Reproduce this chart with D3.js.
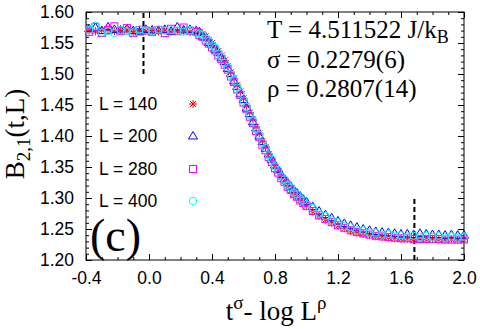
<!DOCTYPE html>
<html><head><meta charset="utf-8">
<script src="https://cdn.jsdelivr.net/npm/d3@7/dist/d3.min.js"></script>
<style>
body{margin:0;background:#fff;}
svg{display:block;}
.tick text{font-family:'Liberation Sans',Arial,sans-serif;font-size:17.5px;fill:#000;}
.serif{font-family:'Liberation Serif','Times New Roman',serif;}
.sans{font-family:'Liberation Sans',Arial,sans-serif;}
</style></head>
<body><svg id="c" width="480" height="329"></svg>
<script>
// ---------- data ----------
const xVals = [-0.38,-0.34,-0.30,-0.26,-0.22,-0.18,-0.14,-0.10,-0.06,-0.02,0.02,0.06,0.10,0.14,0.18,0.22,0.26,0.30,
0.32,0.34,0.36,0.38,0.40,0.42,0.44,0.46,0.48,0.50,0.52,0.54,0.56,0.58,0.60,0.62,0.64,0.66,0.68,0.70,0.72,0.74,0.76,0.78,0.80,0.82,0.84,0.86,0.88,0.90,0.92,0.94,0.96,0.98,1.00,
1.04,1.08,1.12,1.16,1.20,1.24,1.28,1.32,1.36,1.40,1.44,1.48,1.52,1.56,1.60,1.64,1.68,1.72,1.76,1.80,1.84,1.88,1.92,1.96,2.00];

const yL140 = [1.570,1.569,1.571,1.572,1.569,1.570,1.571,1.568,1.570,1.569,1.570,1.569,1.571,1.568,1.569,1.570,1.568,1.567,
1.568,1.565,1.561,1.555,1.550,1.544,1.537,1.530,1.522,1.513,1.503,1.493,1.482,1.472,1.461,1.449,1.438,1.427,1.415,1.404,1.392,1.382,1.371,1.361,1.352,1.343,1.334,1.327,1.319,1.312,1.306,1.301,1.296,1.291,1.287,
1.278,1.271,1.265,1.260,1.255,1.251,1.247,1.244,1.242,1.240,1.238,1.237,1.236,1.235,1.234,1.234,1.233,1.233,1.233,1.234,1.233,1.232,1.233,1.232,1.233];

const yL200 = [1.573,1.575,1.570,1.576,1.572,1.571,1.573,1.570,1.568,1.572,1.571,1.570,1.572,1.569,1.576,1.571,1.572,1.570,
1.568,1.561,1.559,1.551,1.548,1.540,1.535,1.526,1.520,1.509,1.501,1.489,1.480,1.468,1.459,1.445,1.436,1.423,1.413,1.400,1.391,1.380,1.371,1.362,1.353,1.346,1.338,1.331,1.325,1.319,1.313,1.308,1.303,1.298,1.294,
1.286,1.279,1.273,1.268,1.263,1.259,1.256,1.253,1.250,1.248,1.246,1.245,1.244,1.243,1.242,1.242,1.241,1.243,1.242,1.241,1.241,1.240,1.241,1.240,1.240];

const yL280 = [1.568,1.576,1.566,1.571,1.577,1.569,1.574,1.566,1.571,1.570,1.568,1.571,1.566,1.573,1.569,1.575,1.570,1.568,
1.563,1.560,1.554,1.549,1.543,1.538,1.530,1.524,1.515,1.507,1.496,1.487,1.475,1.466,1.454,1.443,1.431,1.421,1.408,1.398,1.386,1.377,1.366,1.358,1.348,1.341,1.332,1.326,1.318,1.313,1.306,1.302,1.296,1.292,1.287,
1.279,1.272,1.266,1.261,1.256,1.252,1.248,1.245,1.243,1.241,1.239,1.238,1.237,1.236,1.235,1.235,1.234,1.234,1.234,1.234,1.234,1.233,1.233,1.233,1.233];

const yL400 = [1.571,1.578,1.567,1.569,1.566,1.571,1.569,1.567,1.572,1.570,1.569,1.572,1.570,1.571,1.570,1.568,1.571,1.566,
1.565,1.563,1.557,1.553,1.546,1.542,1.533,1.528,1.518,1.511,1.499,1.491,1.478,1.470,1.457,1.447,1.434,1.425,1.411,1.402,1.389,1.381,1.369,1.362,1.351,1.345,1.335,1.330,1.321,1.317,1.309,1.306,1.299,1.296,1.290,
1.284,1.275,1.271,1.264,1.261,1.255,1.253,1.248,1.248,1.244,1.244,1.241,1.242,1.239,1.240,1.238,1.239,1.237,1.239,1.237,1.239,1.236,1.238,1.236,1.238];

const seriesLabels = ["L = 140","L = 200","L = 280","L = 400"];
const seriesColors = ["#ff0000","#0000ff","#ff00ff","#00ffff"];
const seriesShapes = ["star","triangle","square","circle"];
const seriesY = [yL140,yL200,yL280,yL400];

const xTickLabels = [-0.4,0.0,0.4,0.8,1.2,1.6,2.0];
const yTickLabels = [1.20,1.25,1.30,1.35,1.40,1.45,1.50,1.55,1.60];
const dashedMarks = [{x:-0.035,y0:1.50,y1:1.60},{x:1.685,y0:1.20,y1:1.30}];

// ---------- layout ----------
const L=86,R=464,T=12,B=260;
const svg=d3.select("#c");
const x=d3.scaleLinear().domain([-0.4,2.0]).range([L,R]);
const y=d3.scaleLinear().domain([1.20,1.60]).range([B,T]);

// axes (ticks inward, mirrored)
const xMinor=d3.range(-0.4,2.0001,0.1);
const yMinor=d3.range(1.20,1.60001,0.01);
function ax(gen,tx,ty,vals,size,fmt){
  const g=svg.append("g").attr("transform",`translate(${tx},${ty})`)
    .call(gen.tickValues(vals).tickSize(size).tickPadding(12).tickFormat(fmt));
  g.select(".domain").remove();
  g.selectAll(".tick line").attr("stroke","#000").attr("stroke-width",1);
  return g;
}
const none=()=>"";
const fx=v=>d3.format(".1f")(v).replace("\u2212","-");
ax(d3.axisBottom(x),0,B,xTickLabels,-6,fx);
ax(d3.axisBottom(x),0,B,xMinor,-3,none);
ax(d3.axisTop(x),0,T,xTickLabels,-6,none);
ax(d3.axisTop(x),0,T,xMinor,-3,none);
ax(d3.axisLeft(y),L,0,yTickLabels,-6,d3.format(".2f"));
ax(d3.axisLeft(y),L,0,yMinor,-3,none);
ax(d3.axisRight(y),R,0,yTickLabels,-6,none);
ax(d3.axisRight(y),R,0,yMinor,-3,none);
svg.selectAll(".tick text").attr("font-family",null).attr("font-size",null);
svg.append("rect").attr("x",L).attr("y",T).attr("width",R-L).attr("height",B-T)
  .attr("fill","none").attr("stroke","#000").attr("stroke-width",1);

// dashed lines
svg.selectAll("line.dash").data(dashedMarks).enter().append("line")
  .attr("x1",d=>x(d.x)).attr("x2",d=>x(d.x)).attr("y1",d=>y(d.y0)).attr("y2",d=>y(d.y1))
  .attr("stroke","#000").attr("stroke-width",2).attr("stroke-dasharray","5,3");

// markers
function shape(sel,kind,color){
  if(kind==="star"){
    sel.append("path").attr("d","M-4,0H4M0,-4V4M-3,-3L3,3M-3,3L3,-3").attr("stroke",color).attr("stroke-width",1).attr("fill","none");
  } else if(kind==="triangle"){
    sel.append("path").attr("d","M0,-4.5L4.5,3L-4.5,3Z").attr("stroke",color).attr("stroke-width",1).attr("fill","none");
  } else if(kind==="square"){
    sel.append("rect").attr("x",-3.5).attr("y",-3.5).attr("width",7).attr("height",7).attr("stroke",color).attr("stroke-width",1).attr("fill","none");
  } else {
    sel.append("circle").attr("r",3.7).attr("stroke",color).attr("stroke-width",1).attr("fill","none");
  }
}
seriesY.forEach((ys,i)=>{
  const pts=xVals.map((xv,j)=>({x:xv,y:ys[j]}));
  const g=svg.append("g");
  g.selectAll("g").data(pts).enter().append("g")
    .attr("transform",d=>`translate(${x(d.x)},${y(d.y)})`)
    .each(function(){shape(d3.select(this),seriesShapes[i],seriesColors[i]);});
});

// legend
const legY=[104,136,169,201];
seriesLabels.forEach((lab,i)=>{
  svg.append("text").attr("class","sans").attr("x",99).attr("y",legY[i]+6).attr("font-size",17.5).text(lab);
  const g=svg.append("g").attr("transform",`translate(193,${legY[i]})`);
  shape(g,seriesShapes[i],seriesColors[i]);
});

// annotations
const t1=svg.append("text").attr("class","serif").attr("x",267).attr("y",38).attr("font-size",25);
t1.append("tspan").text("T = 4.511522 J/k");
t1.append("tspan").attr("dy",5).attr("font-size",18).text("B");
svg.append("text").attr("class","serif").attr("x",267).attr("y",68).attr("font-size",25).text("σ = 0.2279(6)");
svg.append("text").attr("class","serif").attr("x",267).attr("y",97).attr("font-size",25).text("ρ = 0.2807(14)");
svg.append("text").attr("class","serif").attr("x",90).attr("y",251).attr("font-size",46).text("(c)");

// axis titles
const xl=svg.append("text").attr("class","serif").attr("x",276).attr("y",320).attr("text-anchor","middle").attr("font-size",27);
xl.append("tspan").text("t");
xl.append("tspan").attr("dy",-11).attr("font-size",19).text("σ");
xl.append("tspan").attr("dy",11).text("- log L");
xl.append("tspan").attr("dy",-11).attr("font-size",19).text("ρ");

const yl=svg.append("text").attr("class","serif").attr("transform","translate(24,134) rotate(-90)").attr("text-anchor","middle").attr("font-size",27);
yl.append("tspan").text("B");
yl.append("tspan").attr("dy",6).attr("font-size",19).text("2,1");
yl.append("tspan").attr("dy",-6).text("(t,L)");
</script></body></html>
